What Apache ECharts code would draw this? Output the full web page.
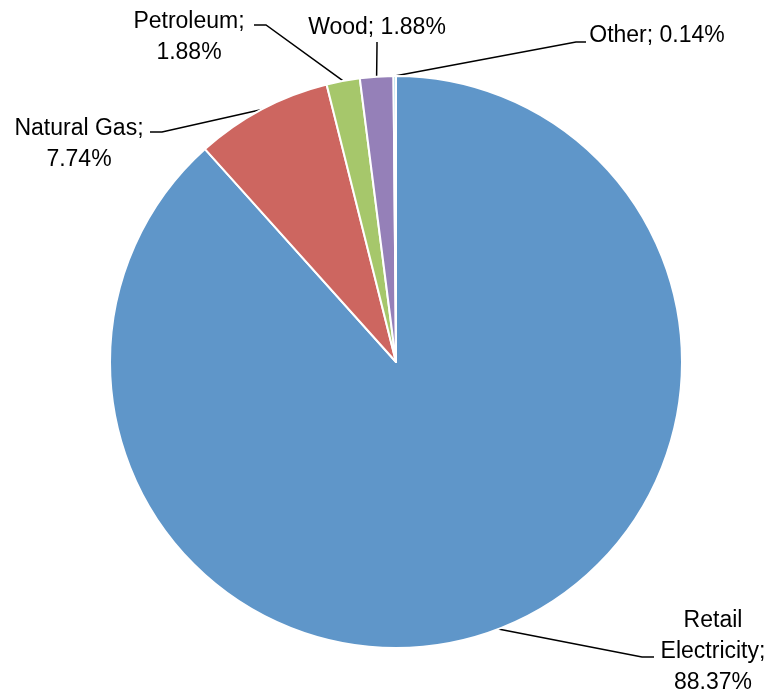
<!DOCTYPE html>
<html><head><meta charset="utf-8">
<script src="https://cdn.jsdelivr.net/npm/echarts@6/dist/echarts.min.js"></script>
<style>html,body{margin:0;padding:0;background:#fff}#c{width:771px;height:696px}</style>
</head><body><div id="c"></div>
<script>
const categories = ['Retail Electricity', 'Natural Gas', 'Petroleum', 'Wood', 'Other'];
const values = [88.37, 7.74, 1.88, 1.88, 0.14];
const colors = ['#5F96C9', '#CD6660', '#A6C76B', '#9580B8', '#8CCBE0'];
const labelTemplates = ['Retail\nElectricity;\n{v}%', 'Natural Gas;\n{v}%', 'Petroleum;\n{v}%', 'Wood; {v}%', 'Other; {v}%'];
// label placement (text centre) and leader-line elbow/end
const labelPlace = [
  {x: 713, y: 652, elbow: [642, 657], end: [654, 657]},
  {x: 79,  y: 144, elbow: [162, 132], end: [150, 132]},
  {x: 189, y: 37,  elbow: [266, 25],  end: [254, 25]},
  {x: 377, y: 28,  elbow: [377, 45],  end: [377, 42]},
  {x: 657, y: 36,  elbow: [576, 42],  end: [586, 42]}
];
const chart = echarts.init(document.getElementById('c'));
chart.setOption({
  animation: false,
  series: [{
    type: 'pie',
    center: [396, 362],
    radius: 286,
    startAngle: 90,
    clockwise: true,
    avoidLabelOverlap: false,
    data: categories.map((n, i) => ({name: n, value: values[i], itemStyle: {color: colors[i]}})),
    itemStyle: {borderColor: '#fff', borderWidth: 2},
    label: {
      show: true,
      position: 'outside',
      color: '#000',
      fontFamily: 'Liberation Sans',
      fontSize: 23,
      lineHeight: 31,
      align: 'center',
      formatter: p => labelTemplates[p.dataIndex].replace('{v}', values[p.dataIndex].toFixed(2))
    },
    labelLine: {show: true, length: 20, length2: 10, lineStyle: {color: '#000', width: 1.5}},
    emphasis: {disabled: true}
  }]
});
chart.setOption({
  series: [{
    labelLayout: function (params) {
      const L = labelPlace[params.dataIndex];
      const start = params.labelLinePoints ? params.labelLinePoints[0] : [L.elbow[0], L.elbow[1]];
      return {
        x: L.x, y: L.y, align: 'center', verticalAlign: 'middle',
        labelLinePoints: [start, L.elbow, L.end]
      };
    }
  }]
});
</script></body></html>
